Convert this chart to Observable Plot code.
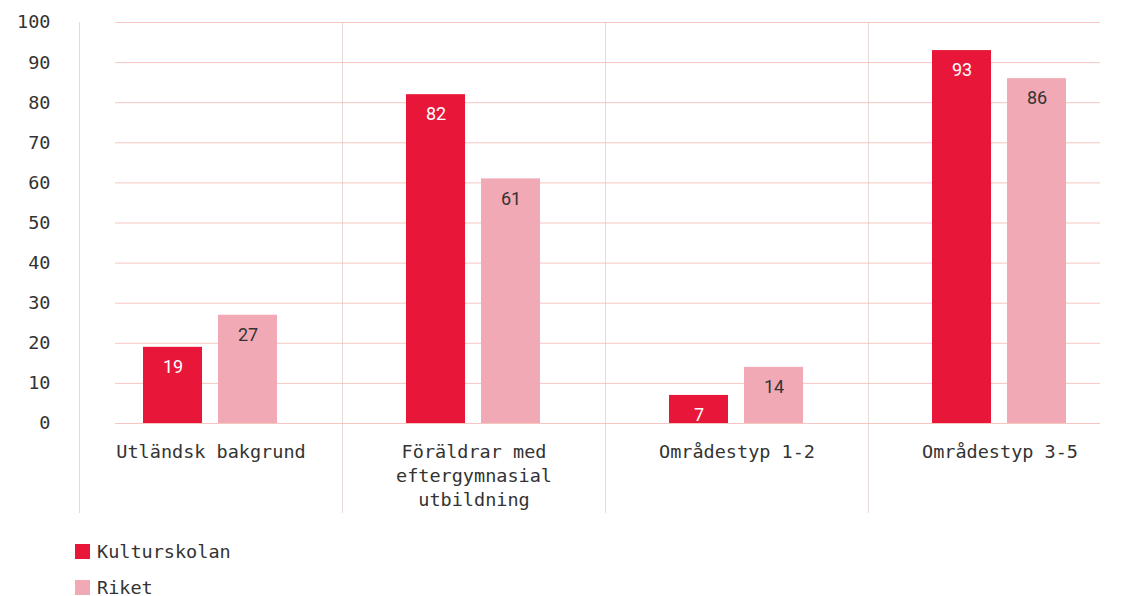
<!DOCTYPE html>
<html>
<head>
<meta charset="utf-8">
<script src="https://cdn.jsdelivr.net/npm/d3@7"></script>
<script src="https://cdn.jsdelivr.net/npm/@observablehq/plot@0.6"></script>
<style>
  body { margin: 0; background: #fff; }
  #legend { font-family: "DejaVu Sans Mono", monospace; font-size: 18.5px; color: #333; padding-left: 75px; padding-top: 20px; }
  #legend .row { display: flex; align-items: center; height: 36px; }
  #legend .sw { width: 15px; height: 15px; margin-right: 7px; }
</style>
</head>
<body>
<div id="chart"></div>
<div id="legend"></div>
<script>
const categories = ["Utländsk bakgrund", "Föräldrar med\neftergymnasial\nutbildning", "Områdestyp 1-2", "Områdestyp 3-5"];
const series = ["Kulturskolan", "Riket"];
const kulturskolan = [19, 82, 7, 93];
const riket = [27, 61, 14, 86];
const yTicks = [0, 10, 20, 30, 40, 50, 60, 70, 80, 90, 100];
const colors = ["#e8173a", "#f2a9b6"];

const values = [kulturskolan, riket];
const data = categories.flatMap((c, i) => series.map((s, j) => ({category: c, series: s, value: values[j][i]})));
const grid = (cats) => cats.flatMap(c => yTicks.map(t => ({category: c, tick: t})));
const gridStyle = {stroke: "#f3b4ab", strokeOpacity: 0.75};

const chart = Plot.plot({
  width: 1126,
  height: 513,
  marginLeft: 79,
  marginRight: -5,
  marginTop: 22,
  marginBottom: 90,
  fx: {domain: categories, padding: 0, label: null},
  x: {domain: series, paddingInner: 0.213, paddingOuter: 0.855, axis: null},
  y: {domain: [0, 100], label: null},
  color: {domain: series, range: colors},
  style: {fontFamily: "DejaVu Sans Mono", fontSize: "18.5px", color: "#333", background: "#fff"},
  marks: [
    Plot.frame({anchor: "left", stroke: "#ead9d9", insetBottom: -90}),
    Plot.ruleY(grid([categories[0]]), {fx: "category", y: "tick", insetLeft: 36, ...gridStyle}),
    Plot.ruleY(grid([categories[1], categories[2]]), {fx: "category", y: "tick", ...gridStyle}),
    Plot.ruleY(grid([categories[3]]), {fx: "category", y: "tick", insetRight: 31, ...gridStyle}),
    Plot.axisY(yTicks, {tickSize: 0, tickPadding: 29, label: null, fontSize: 18.5}),
    Plot.axisFx({anchor: "bottom", tickSize: 0, tickPadding: 17, lineHeight: 1.3, label: null, fontSize: 18.5}),
    Plot.barY(data, {fx: "category", x: "series", y: "value", fill: "series"}),
    Plot.text(data, {filter: d => d.series === series[0], fx: "category", x: "series", y: "value", text: d => String(d.value), dy: 20, fill: "white", fontFamily: "Roboto", fontSize: 18}),
    Plot.text(data, {filter: d => d.series === series[1], fx: "category", x: "series", y: "value", text: d => String(d.value), dy: 20, fill: "#333", fontFamily: "Roboto", fontSize: 18})
  ]
});
document.getElementById("chart").append(chart);

const legend = document.getElementById("legend");
series.forEach((s, i) => {
  const row = document.createElement("div");
  row.className = "row";
  const sw = document.createElement("div");
  sw.className = "sw";
  sw.style.background = colors[i];
  const t = document.createElement("span");
  t.textContent = s;
  row.append(sw, t);
  legend.append(row);
});
</script>
</body>
</html>
